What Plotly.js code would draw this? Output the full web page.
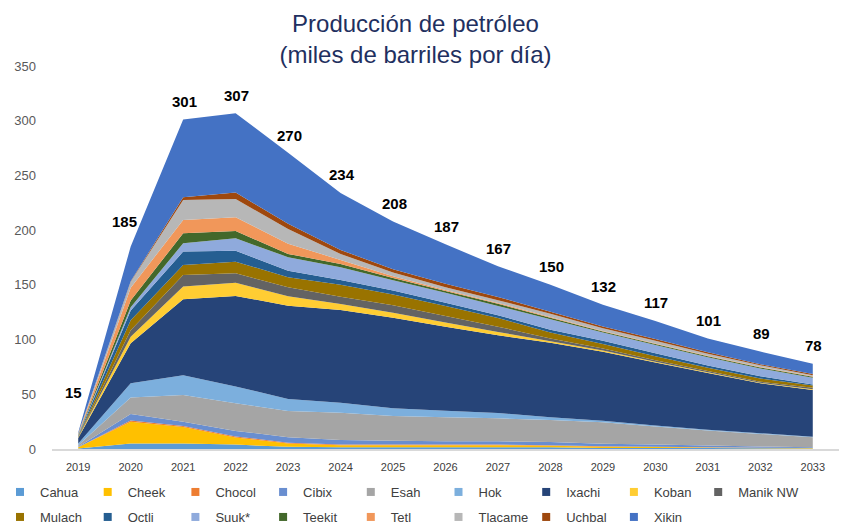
<!DOCTYPE html>
<html><head><meta charset="utf-8">
<script src="https://cdn.plot.ly/plotly-3.0.1.min.js"></script>
<style>html,body{margin:0;padding:0;background:#fff}#chart{width:841px;height:527px}</style>
</head><body><div id="chart"></div>
<script>
const years = [2019,2020,2021,2022,2023,2024,2025,2026,2027,2028,2029,2030,2031,2032,2033];
const totals = [15,185,301,307,270,234,208,187,167,150,132,117,101,89,78];

const cahua   = [0.5, 5, 5, 4, 2, 1.5, 1.5, 1.5, 1.5, 1.5, 1, 1, 0.8, 0.6, 0.5];
const cheek   = [1, 20, 15, 6.5, 3, 2, 2, 2, 2, 1.5, 1, 0.8, 0.5, 0.4, 0.3];
const chocol  = [0, 1, 1, 1, 0.8, 0.7, 0.6, 0.5, 0.5, 0.5, 0.4, 0.3, 0.3, 0.2, 0.2];
const cibix   = [0.5, 6, 4, 5, 5, 4, 3.5, 3, 3, 3, 2.5, 2, 1.5, 1, 0.5];
const esah    = [1.5, 15, 24.4, 25.2, 24, 25, 22.6, 22, 21, 20, 19.5, 16.4, 13.8, 11.6, 9.3];
const hok     = [1.5, 13, 18, 15.5, 11, 9, 7, 6, 5, 2.5, 1.5, 1, 0.8, 0.6, 0.5];
const ixachi  = [5, 36.6, 69.4, 82.7, 85.2, 84.8, 82.8, 76.8, 71, 68, 63, 57.5, 51.8, 45.6, 42.7];
const koban   = [0.5, 6, 11.6, 12, 8.7, 5.5, 4.6, 3.7, 3, 1.5, 1, 0.7, 0.6, 0.5, 0.5];
const manikNW = [0.5, 6, 10.6, 8.6, 8.2, 6.7, 6.7, 6.1, 4.8, 2.5, 2, 1.5, 1.2, 1, 1.5];
const mulach  = [0.5, 9, 9.2, 10.7, 9.1, 10.8, 10, 9.1, 7.9, 5.5, 4, 3.5, 3, 3, 2];
const octli   = [0.5, 9, 12.2, 10, 6, 4.5, 3.5, 3, 2.5, 2.5, 3, 2.8, 2, 2, 1];
const suuk    = [0.5, 3, 7.6, 11.3, 12.3, 11.5, 9.5, 9.2, 8.5, 9.5, 7.5, 7.5, 7.5, 7, 6];
const teekit  = [0.5, 6, 9.2, 6.7, 3, 3, 2, 1.5, 2, 1.5, 1, 1, 1, 1, 1];
const tetl    = [0.5, 11.7, 12.1, 12.5, 9.2, 3.8, 1.5, 1, 0.8, 0.7, 0.5, 0.5, 0.5, 0.5, 0.5];
const tlacame = [0.5, 5.5, 18.3, 16.7, 13.5, 5.4, 3.5, 2.5, 2.5, 2.8, 2.5, 2.5, 1.8, 1.5, 1];
const uchbal  = [0.2, 0.5, 2.4, 6, 4.8, 3.7, 3, 3, 3, 2, 1.5, 1.5, 1.2, 1, 1];
const xikin   = [0.8, 31.7, 71, 72.4, 65, 52, 43.7, 36.1, 28, 24.5, 20, 16.5, 12.7, 11.5, 9.5];

const names = ['Cahua','Cheek','Chocol','Cibix','Esah','Hok','Ixachi','Koban','Manik NW',
               'Mulach','Octli','Suuk*','Teekit','Tetl','Tlacame','Uchbal','Xikin'];
const series = [cahua,cheek,chocol,cibix,esah,hok,ixachi,koban,manikNW,
                mulach,octli,suuk,teekit,tetl,tlacame,uchbal,xikin];
const colors = ['#5B9BD5','#FFC000','#ED7D31','#698ED0','#A5A5A5','#7CAFDD','#264478','#FFCD33','#636363',
                '#997300','#255E91','#8FAADC','#43682B','#F1975A','#B7B7B7','#9E480E','#4472C4'];

const traces = [];
series.forEach((vals, i) => {
  traces.push({
    type: 'scatter', x: years, y: vals, name: names[i],
    stackgroup: 'one', mode: 'none', fillcolor: colors[i],
    line: {width: 0}, showlegend: false, legendgroup: names[i], hoverinfo: 'x+y+name'
  });
});
// legend entries (square markers); row 1 split so the last entry is not clipped
series.forEach((vals, i) => {
  traces.push({
    type: 'scatter', x: [null], y: [null], name: names[i], mode: 'markers',
    marker: {symbol: 'square', size: 8, color: colors[i]},
    legendgroup: names[i], showlegend: true,
    legend: i < 8 ? 'legend' : (i === 8 ? 'legend3' : 'legend2')
  });
});

const nudges = {0: {dx: -5, dy: 40}, 1: {dx: -6, dy: 25}};
const annotations = totals.map((t, i) => ({
  x: years[i], y: t, xref: 'x', yref: 'y', text: String(t), showarrow: false,
  yanchor: 'middle', xanchor: 'center',
  xshift: nudges[i] ? nudges[i].dx : 1,
  yshift: nudges[i] ? nudges[i].dy : 18,
  font: {family: 'Liberation Sans, Arial, sans-serif', size: 15, color: '#000', weight: 'bold'}
}));

const legendBase = {
  orientation: 'h', xref: 'container', yref: 'container', x: -0.004, xanchor: 'left',
  yanchor: 'middle', entrywidth: 42.7, entrywidthmode: 'pixels',
  font: {family: 'Liberation Sans, Arial, sans-serif', size: 13, color: '#404040'},
  bgcolor: 'rgba(0,0,0,0)', borderwidth: 0, traceorder: 'normal', itemclick: false
};

const layout = {
  width: 841, height: 527,
  margin: {l: 52, r: 2, t: 66, b: 78, autoexpand: false},
  paper_bgcolor: '#fff', plot_bgcolor: '#fff',
  font: {family: 'Liberation Sans, Arial, sans-serif'},
  title: {
    text: 'Producción de petróleo<br>(miles de barriles por día)',
    x: 0.494, xref: 'container', xanchor: 'center',
    y: 1 - 32/527, yref: 'container', yanchor: 'top',
    font: {family: 'Liberation Sans, Arial, sans-serif', size: 24, color: '#1F3060'}
  },
  xaxis: {
    range: [2018.5, 2033.5], tickvals: years, ticktext: years.map(String),
    showgrid: false, zeroline: false, showline: true, linecolor: '#D9D9D9', linewidth: 1.5,
    ticks: '', ticklabelstandoff: 7,
    tickfont: {family: 'Liberation Sans, Arial, sans-serif', size: 11, color: '#404040'}
  },
  yaxis: {
    range: [0, 350], dtick: 50, tick0: 0, showgrid: false, zeroline: false, showline: false,
    ticks: '', ticklabelstandoff: 15,
    tickfont: {family: 'Liberation Sans, Arial, sans-serif', size: 13, color: '#595959'}
  },
  legend: Object.assign({}, legendBase, {y: 1 - 492/527}),
  legend2: Object.assign({}, legendBase, {y: 1 - 517/527}),
  legend3: Object.assign({}, legendBase, {y: 1 - 492/527, x: (-3.4 + 8 * 87.7) / 841, entrywidth: 80}),
  annotations: annotations,
  showlegend: true
};

Plotly.newPlot('chart', traces, layout, {displayModeBar: false, staticPlot: true});
</script>
</body></html>
